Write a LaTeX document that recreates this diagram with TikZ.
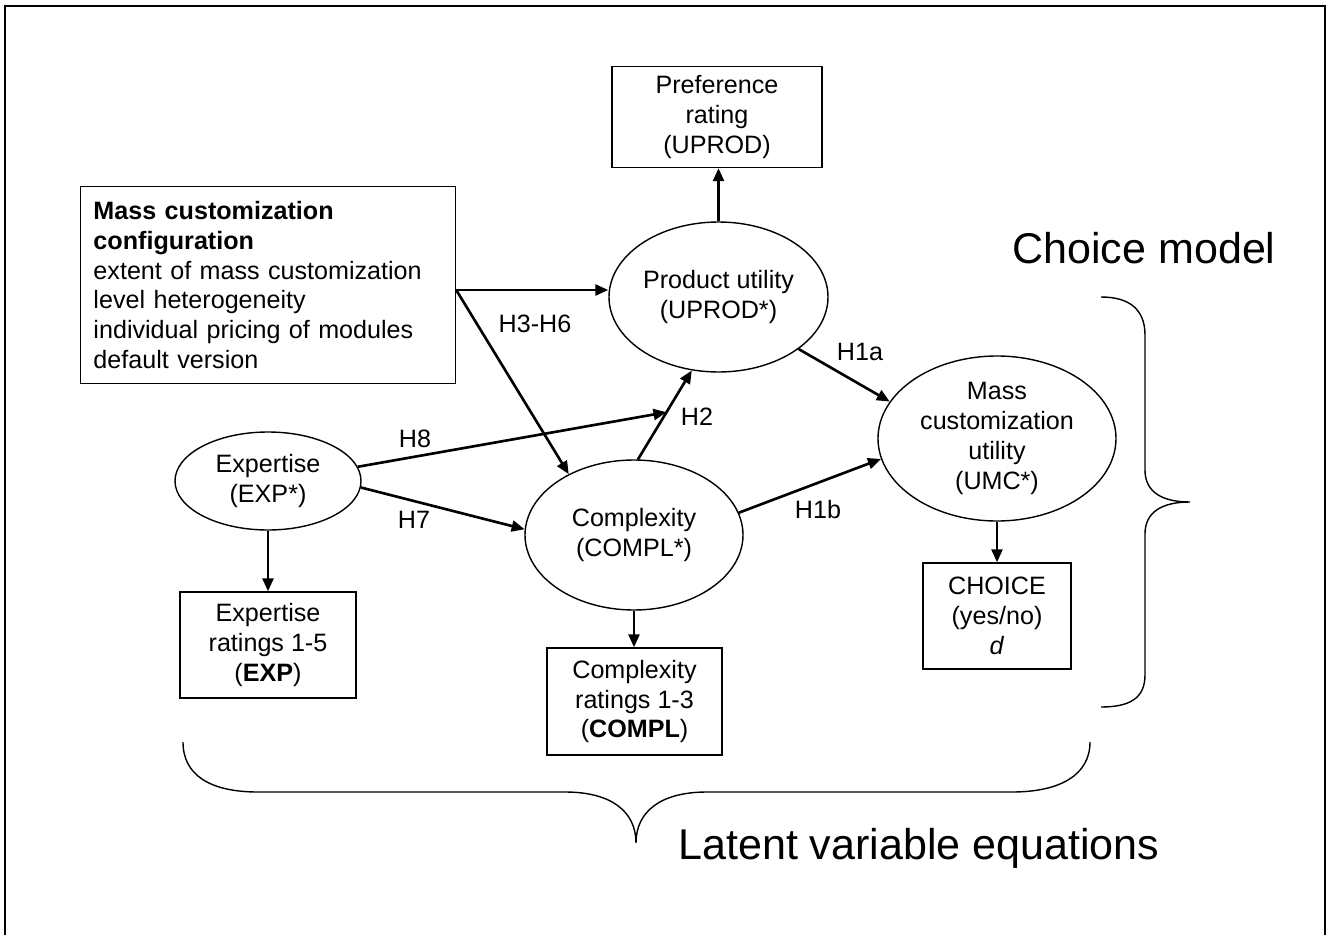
\documentclass[tikz,border=0pt]{standalone}
\usepackage{fontspec}
\setmainfont{Liberation Sans}
\usetikzlibrary{shapes.geometric,arrows.meta,calc}

\begin{document}
\begin{tikzpicture}[x=0.2mm,y=-0.2mm,
  every node/.style={font=\fontsize{14.3}{17}\selectfont},
  latent/.style={draw,ellipse,line width=0.8pt,inner sep=0pt,align=center},
  indicator/.style={draw,rectangle,line width=0.8pt,inner sep=0pt,align=center},
  effect/.style={line width=1.5pt,-{Triangle[length=2.6mm,width=2.2mm]}},
  hyp/.style={inner sep=0pt},
  curly/.style={line width=0.8pt},
  big/.style={font=\fontsize{24.5}{29}\selectfont,inner sep=0pt}]

  \useasboundingbox (0,0) rectangle (1326,935);
  \draw [line width=1.1pt] (5,935) -- (5,6) -- (1325,6) -- (1325,935);

  \node [indicator,minimum width=42mm,minimum height=20.2mm] (pref) at (717,117)
    {Preference\\rating\\(UPROD)};
  \node [indicator,minimum width=75mm,minimum height=39.4mm,text width=69.8mm,
    align=left,inner xsep=2.6mm] (cfg) at (268,285)
    {\textbf{Mass customization}\\\textbf{configuration}\\extent of mass customization\\
     level heterogeneity\\individual pricing of modules\\default version};
  \node [latent,minimum width=43.8mm,minimum height=30mm] (pu) at (718.5,297)
    {Product utility\\(UPROD*)};
  \node [latent,minimum width=47.6mm,minimum height=33mm] (mcu) at (997,438.5)
    {Mass\\customization\\utility\\(UMC*)};
  \node [latent,minimum width=37.2mm,minimum height=19.6mm] (ex) at (268,481)
    {Expertise\\(EXP*)};
  \node [latent,minimum width=43.6mm,minimum height=30mm] (cx) at (634,535)
    {Complexity\\(COMPL*)};
  \node [indicator,minimum width=35.2mm,minimum height=21.2mm] (exr) at (268,645)
    {Expertise\\ratings 1-5\\(\textbf{EXP})};
  \node [indicator,minimum width=35mm,minimum height=21.4mm] (cxr) at (634.5,701.5)
    {Complexity\\ratings 1-3\\(\textbf{COMPL})};
  \node [indicator,minimum width=29.6mm,minimum height=21.2mm] (choice) at (997,616)
    {CHOICE\\(yes/no)\\\textit{d}};

  \node [hyp] (h36) at (535,324) {H3-H6};
  \node [hyp] (h8) at (415,439) {H8};
  \node [hyp] (h7) at (414,520) {H7};
  \node [hyp] (h2) at (697,417) {H2};
  \node [hyp] (h1a) at (860,352) {H1a};
  \node [hyp] (h1b) at (818,510) {H1b};

  \node [big,anchor=base west] (cm) at (1012,263) {Choice model};
  \node [big,anchor=base west] (lve) at (678,859) {Latent variable equations};

  % Paths between the constructs
  \coordinate (split) at ([yshift=-1mm]cfg.east);
  \coordinate (moderate) at ($(cx.87)!0.53!(pu.250)$);
  \draw [effect] (pu.north) -- (pu.north |- pref.south);
  \draw [effect] (split) -- (split -| pu.west);
  \draw [effect] (split) -- (cx.137);
  \draw [effect] (ex.9) -- (moderate);
  \draw [effect] (ex.-4) -- (cx.177);
  \draw [effect] (cx.87) -- (pu.250);
  \draw [effect] (pu.-33) -- (mcu.161);
  \draw [effect] (cx.12) -- (mcu.190);
  \draw [effect] (ex) -- (exr);
  \draw [effect] (cx.south) -- (cx.south |- cxr.north);
  \draw [effect] (mcu) -- (choice);

  % Braces
  \draw [curly] (1101,297) .. controls (1130,297) and (1145,310) .. (1145,335)
    -- (1145,470) .. controls (1145,492) and (1162,502) .. (1190,502)
    .. controls (1162,502) and (1145,512) .. (1145,534)
    -- (1145,675) .. controls (1145,698) and (1130,707) .. (1101,707);
  \draw [curly] (183,742) .. controls (183,775) and (210,792) .. (258,792)
    -- (565,792) .. controls (612,792) and (636,812) .. (636,843)
    .. controls (636,812) and (660,792) .. (707,792)
    -- (1012,792) .. controls (1060,792) and (1090,775) .. (1090,742);
\end{tikzpicture}
\end{document}
